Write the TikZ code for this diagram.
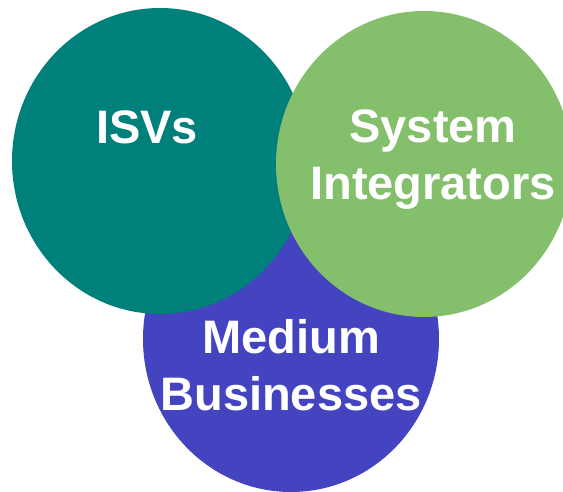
\documentclass[tikz,border=0pt]{standalone}
\usepackage{fontspec}
\setmainfont{Liberation Sans}
\usepackage{xcolor}
\usepackage{tikz}
\usetikzlibrary{shapes,positioning}

\definecolor{isvteal}{HTML}{00807A}
\definecolor{sigreen}{HTML}{84C06C}
\definecolor{mbblue}{HTML}{4444C0}

\begin{document}
\begin{tikzpicture}[x=1pt, y=-1pt, outer sep=0pt,
    blob/.style={ellipse, draw=none, inner sep=0pt, minimum width=296pt, minimum height=306pt},
    blobtext/.style={text=white, align=center, anchor=base, inner sep=0pt, font=\fontsize{47}{57}\selectfont\bfseries}]
    \useasboundingbox (0,0) rectangle (563,492);
    \clip (0,0) rectangle (563,492);
    \node (mb) [blob, fill=mbblue] at (291,339) {};
    \node (isv) [blob, fill=isvteal] at (160,161) {};
    \node (si) [blob, fill=sigreen] at (424,164) {};
    \node (isvtext) [blobtext] at (147,144) {ISVs};
    \node (sitext) [blobtext] at (433,200) {System\\Integrators};
    \node (mbtext) [blobtext] at (291,410) {Medium\\Businesses};
\end{tikzpicture}
\end{document}
